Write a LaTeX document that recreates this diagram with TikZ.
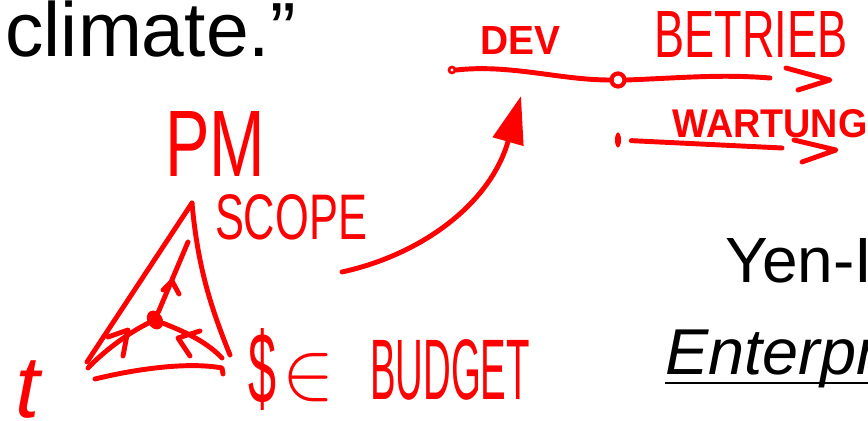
\documentclass[tikz,border=0pt]{standalone}
\usepackage{fontspec}
\setmainfont{Liberation Sans}
\usetikzlibrary{arrows.meta,calc,positioning,shapes.geometric}
\newcommand{\scrawltext}[3]{\resizebox{#1}{#2}{#3}}

\begin{document}
\begin{tikzpicture}[x=0.02cm,y=-0.02cm]

\tikzset{ink/.style={
  draw=red,
  line width=2.8pt,
  line cap=round,
  line join=round
  },
  slide/.style={inner sep=0pt, text=black},
  scrawl/.style={inner sep=0pt, text=red}}

\useasboundingbox (0,0) rectangle (868,421);
\clip (0,0) rectangle (868,421);

% slide text underneath
\node[slide, anchor=base east, font=\fontsize{43.7}{50}\selectfont] (clim) at (296,57) {climate.”};
\node[slide, anchor=base west, font=\fontsize{36.4}{42}\selectfont] (yen) at (725,283) {Yen-I};
\node[slide, anchor=base west, font=\fontsize{36.9}{42}\selectfont\itshape] (ent) at (665,375) {Enterpr};
\draw[line width=1.7pt] ($(ent.base west)+(0,8)$) -- ($(ent.base west)+(215,8)$);

% handwritten labels
\node[scrawl] (dev) at (520,41) {\scrawltext{1.6cm}{0.56cm}{\bfseries DEV}};
\node[scrawl] (betr) at (751,35) {\scrawltext{3.86cm}{0.92cm}{BETRIEB}};
\node[scrawl] (wart) at (770,124) {\scrawltext{3.9cm}{0.56cm}{\bfseries WARTUNG}};
\node[scrawl] (pm) at (215,144) {\scrawltext{2.0cm}{1.3cm}{PM}};
\node[scrawl] (scope) at (291,217) {\scrawltext{3.04cm}{0.9cm}{SCOPE}};
\node[scrawl, anchor=base, font=\fontsize{50}{50}\selectfont\itshape] (t) at (28,418) {t};
\node[scrawl] (dol) at (262,370) {\scrawltext{0.56cm}{1.5cm}{\$}};
\node[scrawl] (elem) at (308,378) {\scrawltext{1.04cm}{0.9cm}{$\in$}};
\node[scrawl] (budget) at (450,370) {\scrawltext{3.2cm}{1.2cm}{BUDGET}};

% dev -> betrieb / wartung
\node[draw=red, line width=1.5pt, circle, inner sep=0pt, minimum size=0.12cm] (d0) at (452,70) {};
\node[draw=red, line width=2.4pt, circle, inner sep=0pt, minimum size=0.26cm] (d1) at (618,80) {};
\node[fill=red, ellipse, inner sep=0pt, minimum width=0.12cm, minimum height=0.3cm] (w0) at (618,140) {};
\coordinate (bend) at (770,78);
\coordinate (wend) at (782,148);
\draw[ink] (d0.east) .. controls (510,64) and (560,80) .. (d1.west);
\draw[ink] (d1.east) .. controls (680,78) and (720,74) .. (bend);
\draw[ink] ($(bend)+(16,-10)$) -- ++(44,12) -- ++(-32,10);
\draw[ink, shorten <=0.2cm] (w0) -- (wend);
\draw[ink] ($(wend)+(12,-8)$) -- ++(42,10) -- ++(-34,12);

% big curved arrow
\coordinate (cs) at (342,272);
\coordinate (ce) at (521,96);
\draw[ink, -{Triangle[length=0.95cm,width=0.62cm]}] (cs) .. controls (420,255) and (490,205) .. (ce);

% triangle
\coordinate (apex) at (192,203);
\coordinate (tl) at (87,362);
\coordinate (br) at (230,355);
\coordinate (bl0) at (95,379);
\coordinate (bl1) at (222,368);
\draw[ink] (apex) -- (tl);
\draw[ink] (apex) .. controls (198,270) and (212,310) .. (br);
\draw[ink] (bl0) .. controls (140,368) and (190,362) .. (bl1) -- ++(1,6);

% inner arrows
\node[fill=red, ellipse, inner sep=0pt, minimum width=0.3cm, minimum height=0.4cm, rotate=30] (ctr) at (155,320) {};
\coordinate (scopeend) at (188,242);
\coordinate (timeend) at (88,368);
\coordinate (costend) at (222,358);
\draw[ink] (ctr) -- (scopeend);
\draw[ink] (163,290) -- (172,281) -- (179,294);
\draw[ink] (timeend) .. controls (105,350) and (130,332) .. (ctr);
\draw[ink] (108,337) -- (128,330) -- (123,356);
\draw[ink] (costend) .. controls (205,340) and (180,330) .. (ctr);
\draw[ink] (200,331) -- (178,338) -- (190,356);
\end{tikzpicture}
\end{document}
